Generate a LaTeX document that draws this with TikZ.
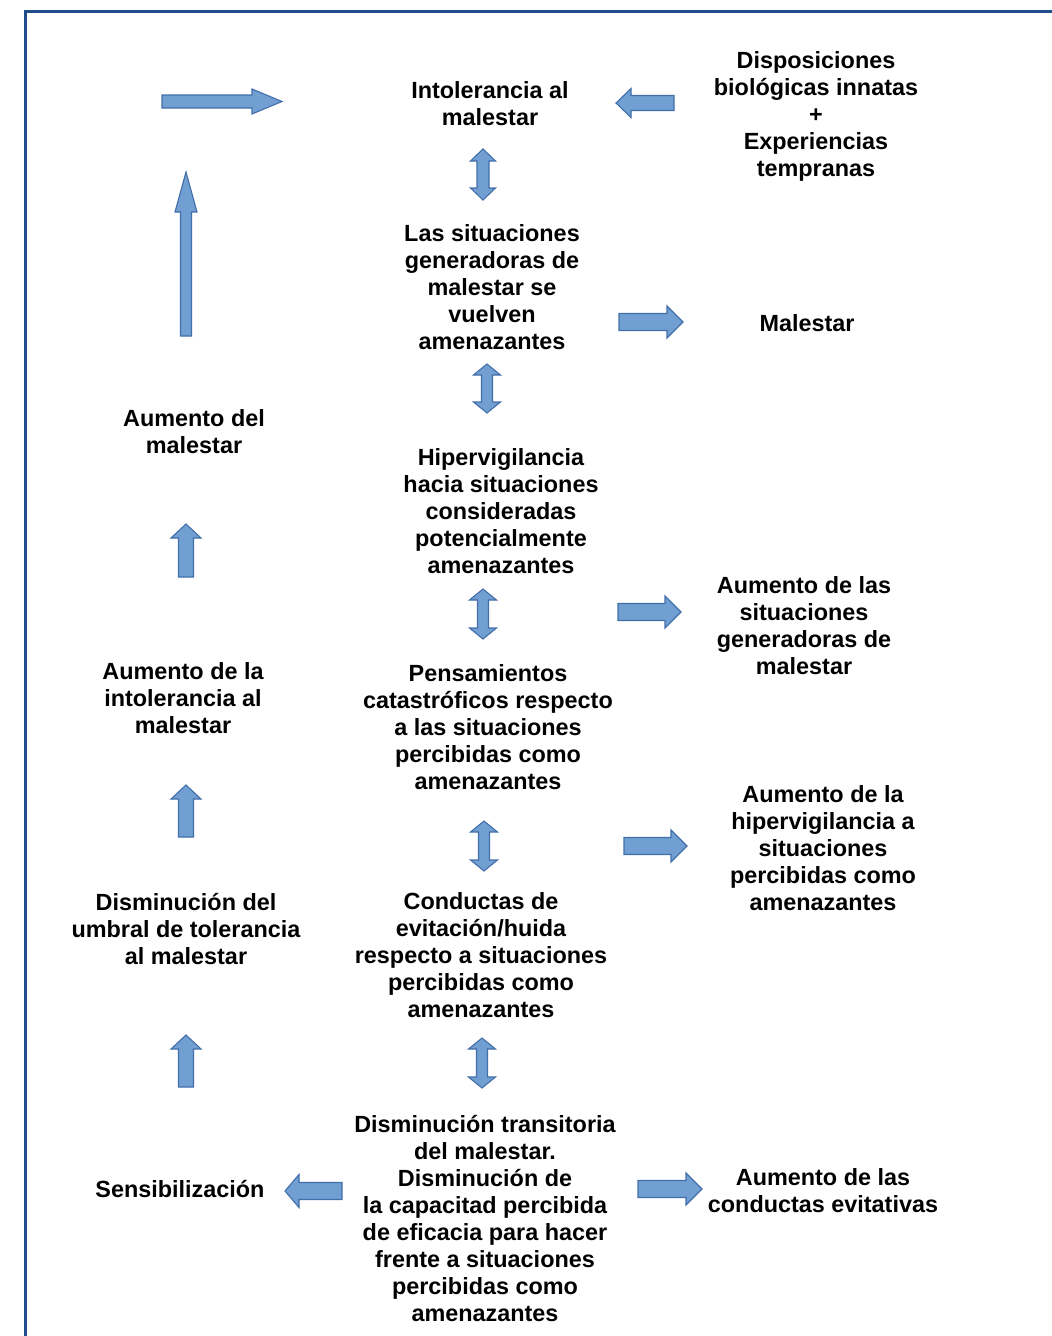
\documentclass[tikz,border=0pt]{standalone}
\usepackage{fontspec}
\setmainfont{Liberation Sans}
\definecolor{frameblue}{RGB}{31,78,138}
\definecolor{arrfill}{RGB}{114,159,210}
\definecolor{arrline}{RGB}{66,110,170}
\tikzset{
  blk/.style={fill=arrfill,draw=arrline,line width=1.1pt,line join=miter},
  lbl/.style={align=center,inner sep=0pt,font=\bfseries\fontsize{23.4}{27}\selectfont},
}
% horizontal block arrow: tail x, tip x, y, shaft half, head half, head base x
\newcommand\blkH[6]{\filldraw[blk] (#1,#3-#4) -- (#6,#3-#4) -- (#6,#3-#5) -- (#2,#3) -- (#6,#3+#5) -- (#6,#3+#4) -- (#1,#3+#4) -- cycle;}
% vertical block arrow: x, tail y, tip y, shaft half, head half, head base y
\newcommand\blkV[6]{\filldraw[blk] (#1-#4,#2) -- (#1-#4,#6) -- (#1-#5,#6) -- (#1,#3) -- (#1+#5,#6) -- (#1+#4,#6) -- (#1+#4,#2) -- cycle;}
% double vertical arrow: x, top tip, bottom tip, shaft half, head half, head length
\newcommand\blkD[6]{\filldraw[blk] (#1,#2) -- (#1+#5,#2+#6) -- (#1+#4,#2+#6) -- (#1+#4,#3-#6) -- (#1+#5,#3-#6) -- (#1,#3) -- (#1-#5,#3-#6) -- (#1-#4,#3-#6) -- (#1-#4,#2+#6) -- (#1-#5,#2+#6) -- cycle;}
\begin{document}
\begin{tikzpicture}[x=1pt,y=-1pt]
\useasboundingbox (0,0) rectangle (1052,1336);
% frame (only left and top edges visible)
\draw[frameblue,line width=3pt] (25.5,1340) -- (25.5,11.5) -- (1060,11.5);

% texts
\node[lbl] (intol) at (490,103.5) {Intolerancia al\\malestar};
\node[lbl] (dispo) at (816,116) {Disposiciones\\biológicas innatas\\+\\Experiencias\\tempranas};
\node[lbl] (situ) at (492,287.5) {Las situaciones\\generadoras de\\malestar se\\vuelven\\amenazantes};
\node[lbl] (males) at (807,323.5) {Malestar};
\node[lbl] (aumm) at (194,431.5) {Aumento del\\malestar};
\node[lbl] (hiper) at (501,511) {Hipervigilancia\\hacia situaciones\\consideradas\\potencialmente\\amenazantes};
\node[lbl] (aums) at (804,626) {Aumento de las\\situaciones\\generadoras de\\malestar};
\node[lbl] (aumi) at (183,698) {Aumento de la\\intolerancia al\\malestar};
\node[lbl] (pens) at (488,727) {Pensamientos\\catastróficos respecto\\a las situaciones\\percibidas como\\amenazantes};
\node[lbl] (aumh) at (823,848) {Aumento de la\\hipervigilancia a\\situaciones\\percibidas como\\amenazantes};
\node[lbl] (dism) at (186,929.5) {Disminución del\\umbral de tolerancia\\al malestar};
\node[lbl] (cond) at (481,955) {Conductas de\\evitación/huida\\respecto a situaciones\\percibidas como\\amenazantes};
\node[lbl] (trans) at (485,1219) {Disminución transitoria\\del malestar.\\Disminución de\\la capacitad percibida\\de eficacia para hacer\\frente a situaciones\\percibidas como\\amenazantes};
\node[lbl] (sens) at (180,1189.5) {Sensibilización};
\node[lbl] (aumc) at (823,1190.5) {Aumento de las\\conductas evitativas};

% block arrows
\blkH{162}{282}{101.5}{6.5}{12.5}{252}
\blkH{674}{616}{103}{7.5}{14.5}{631}
\blkD{483}{149}{200}{6}{12.5}{12}
\blkV{186}{336}{172}{5.5}{11}{212}
\blkH{619}{683}{322}{8.5}{16}{667}
\blkD{487}{364}{413}{5.5}{13.5}{11}
\blkV{186}{577}{524}{7.5}{15}{538}
\blkD{483}{589}{639}{5.5}{13.5}{11}
\blkH{618}{681}{612}{8.5}{16}{665}
\blkV{186}{837}{785}{7.5}{15}{799}
\blkD{484}{821}{871}{5.5}{13.5}{11}
\blkH{624}{687}{846}{8.5}{16}{671}
\blkV{186}{1087}{1035}{7.5}{15}{1049}
\blkD{482}{1038}{1088}{5.5}{13.5}{11}
\blkH{342}{285}{1191}{8.5}{16.5}{299}
\blkH{638}{702}{1189}{8.5}{16}{686}
\end{tikzpicture}
\end{document}
